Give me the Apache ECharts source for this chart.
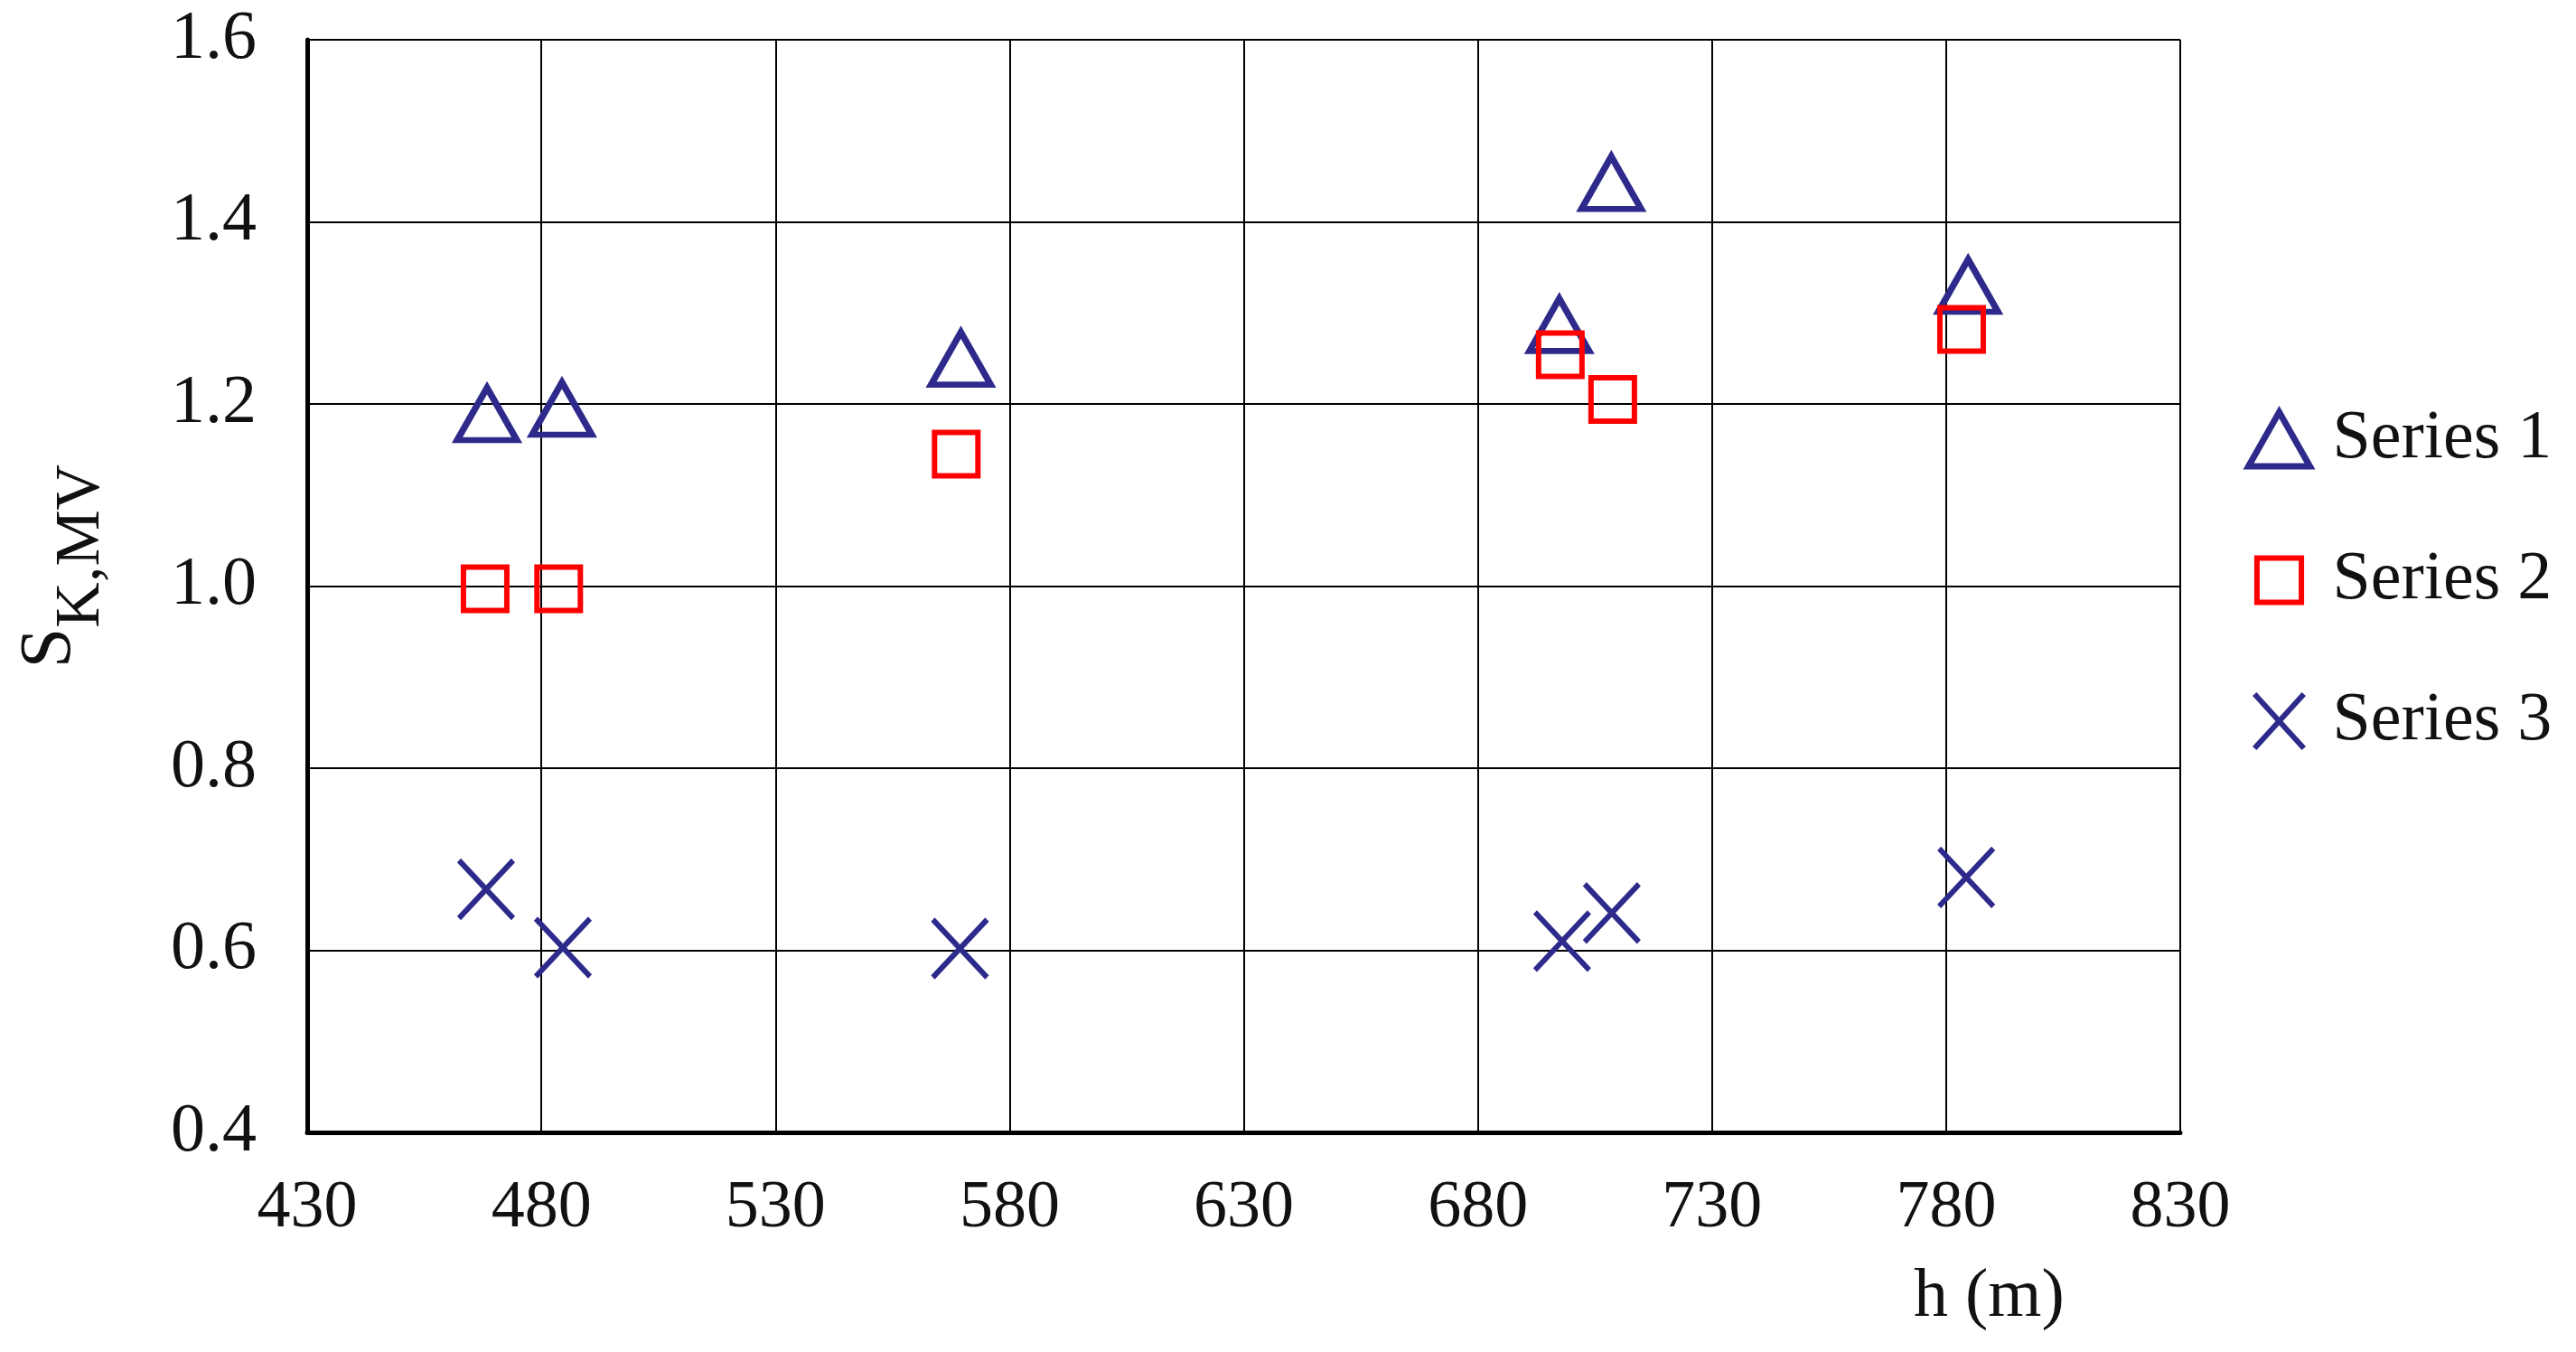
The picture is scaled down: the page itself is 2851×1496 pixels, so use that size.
<!DOCTYPE html>
<html>
<head>
<meta charset="utf-8">
<script src="https://cdn.jsdelivr.net/npm/echarts@6/dist/echarts.min.js"></script>
<style>
html,body{margin:0;padding:0;background:#fff;}
#chart{width:2851px;height:1496px;}
</style>
</head>
<body>
<div id="chart"></div>
<script>
// ---- data ----
const seriesNames = ['Series 1', 'Series 2', 'Series 3'];
const series1 = [[468.4, 1.189], [484.4, 1.195], [569.6, 1.250], [697.4, 1.287], [708.5, 1.443], [784.7, 1.330]];
const series2 = [[468.0, 0.997], [483.7, 0.997], [568.6, 1.145], [697.6, 1.254], [708.8, 1.205], [783.3, 1.282]];
const series3 = [[468.2, 0.667], [484.6, 0.603], [569.4, 0.602], [698.0, 0.610], [708.6, 0.641], [784.3, 0.680]];
const xTicks = [430, 480, 530, 580, 630, 680, 730, 780, 830];
const yTicks = [0.4, 0.6, 0.8, 1.0, 1.2, 1.4, 1.6];
const xTitle = 'h (m)';

// ---- styling ----
const FONT = 'Liberation Serif';
const NAVY = '#2d2a8c';
const RED = '#ff0000';
const CROSS = 'path://M0,0L10,11M10,0L0,11';
const LEGEND_SQUARE = 'path://M-1.1,-1.1M11.1,11.1M0,0H10V10H0Z';

const chart = echarts.init(document.getElementById('chart'), null, {renderer: 'canvas'});
chart.setOption({
  backgroundColor: '#ffffff',
  animation: false,
  grid: {left: 340, right: 438, top: 44, bottom: 243, containLabel: false},
  xAxis: {
    type: 'value',
    min: xTicks[0],
    max: xTicks[xTicks.length - 1],
    axisLine: {show: true, onZero: false, lineStyle: {color: '#000', width: 5}},
    axisTick: {show: false, customValues: xTicks},
    axisLabel: {customValues: xTicks, margin: 48, fontFamily: FONT, fontSize: 74, color: '#111'},
    splitLine: {show: true, lineStyle: {color: '#000', width: 2}}
  },
  yAxis: {
    type: 'value',
    min: yTicks[0],
    max: yTicks[yTicks.length - 1],
    axisLine: {show: true, onZero: false, lineStyle: {color: '#000', width: 5}},
    axisTick: {show: false, customValues: yTicks},
    axisLabel: {customValues: yTicks, margin: 56, fontFamily: FONT, fontSize: 76, color: '#111',
      formatter: v => v.toFixed(1)},
    splitLine: {show: true, lineStyle: {color: '#000', width: 2}},
    name: '{s|S}{sub|K,MV}',
    nameLocation: 'middle',
    nameRotate: 90,
    nameGap: 244,
    nameTextStyle: {
      fontFamily: FONT, color: '#111',
      padding: [0, 0, 0, 44],
      rich: {
        s: {fontFamily: FONT, fontSize: 80, lineHeight: 80, verticalAlign: 'top', color: '#111'},
        sub: {fontFamily: FONT, fontSize: 70, lineHeight: 70, verticalAlign: 'top', padding: [40, 0, 0, 0], color: '#111'}
      }
    }
  },
  legend: {
    orient: 'vertical',
    left: 2480,
    top: 443,
    itemWidth: 68,
    itemHeight: 60,
    itemGap: 80,
    symbolKeepAspect: true,
    textStyle: {fontFamily: FONT, fontSize: 76, lineHeight: 76, color: '#111', padding: [0, 0, 0, 20]},
    data: [
      {name: seriesNames[0], icon: 'triangle', itemStyle: {color: 'rgba(0,0,0,0)', borderColor: NAVY, borderWidth: 7}},
      {name: seriesNames[1], icon: LEGEND_SQUARE, itemStyle: {color: 'rgba(0,0,0,0)', borderColor: RED, borderWidth: 6}},
      {name: seriesNames[2], icon: CROSS, itemStyle: {color: 'rgba(0,0,0,0)', borderColor: NAVY, borderWidth: 6}}
    ]
  },
  graphic: [{
    type: 'text',
    left: 2118,
    top: 1398,
    style: {text: xTitle, fontFamily: FONT, fontSize: 76, fill: '#111'}
  }],
  series: [
    {
      name: seriesNames[0], type: 'scatter', data: series1,
      symbol: 'triangle', symbolSize: [66, 58],
      itemStyle: {color: 'rgba(0,0,0,0)', borderColor: NAVY, borderWidth: 7, opacity: 1}
    },
    {
      name: seriesNames[1], type: 'scatter', data: series2,
      symbol: 'rect', symbolSize: [48, 48],
      itemStyle: {color: 'rgba(0,0,0,0)', borderColor: RED, borderWidth: 6, opacity: 1}
    },
    {
      name: seriesNames[2], type: 'scatter', data: series3,
      symbol: CROSS, symbolSize: [60, 64],
      itemStyle: {color: 'rgba(0,0,0,0)', borderColor: NAVY, borderWidth: 6, opacity: 1}
    }
  ]
});
</script>
</body>
</html>
